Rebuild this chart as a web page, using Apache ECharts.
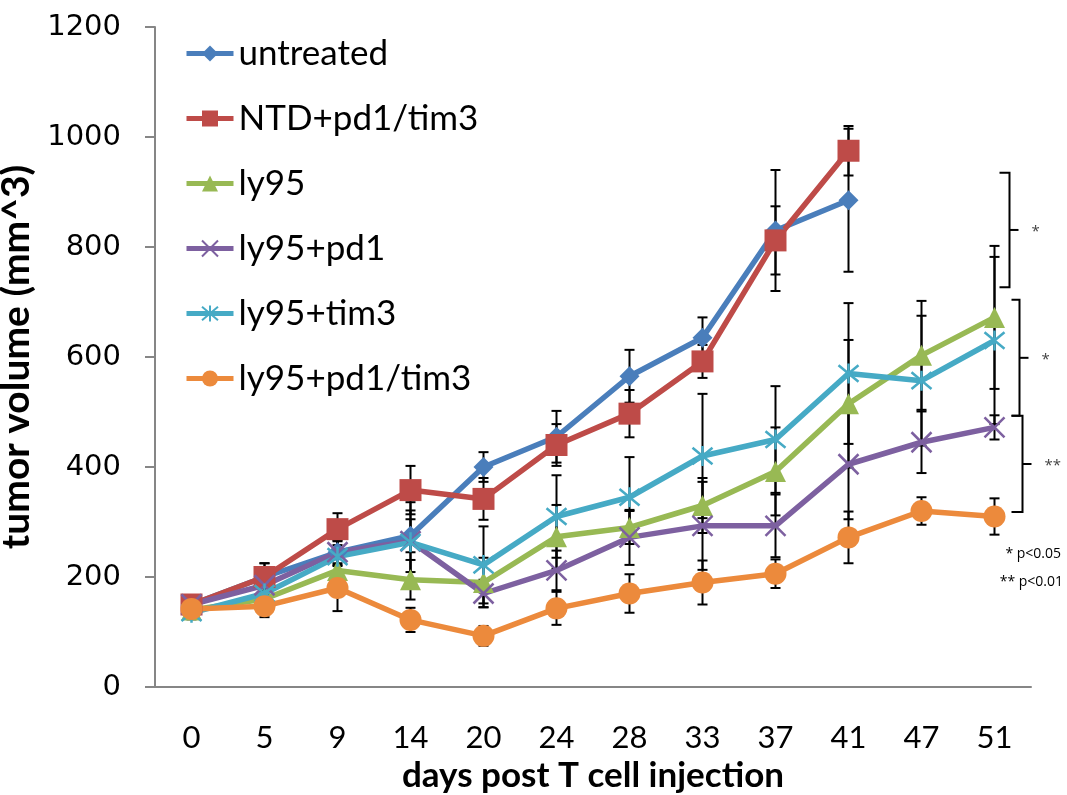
<!DOCTYPE html>
<html>
<head>
<meta charset="utf-8">
<script src="https://cdn.jsdelivr.net/npm/echarts@6/dist/echarts.min.js"></script>
<style>
  html, body { margin: 0; padding: 0; background: #fff; }
  #chart { width: 1067px; height: 795px; }
</style>
</head>
<body>
<div id="chart"></div>
<script>
const days = ['0', '5', '9', '14', '20', '24', '28', '33', '37', '41', '47', '51']

const untreated = [150, 200, 245, 275, 400, 455, 565, 635, 830, 885]
const untreatedErr = [15, 25, 20, 30, 27, 47, 48, 37, 110, 130]
const ntd = [150, 200, 287, 358, 342, 440, 497, 592, 812, 975]
const ntdErr = [15, 25, 29, 44, 38, 38, 43, 30, 62, 45]
const ly95 = [140, 160, 212, 195, 190, 273, 290, 330, 392, 515, 603, 672]
const ly95Err = [12, 20, 40, 36, 45, 58, 30, 50, 80, 116, 99, 130]
const ly95pd1 = [150, 185, 245, 265, 170, 212, 272, 293, 293, 405, 445, 472]
const ly95pd1Err = [12, 20, 25, 56, 25, 36, 50, 80, 57, 100, 56, 22]
const ly95tim3 = [135, 170, 237, 263, 222, 310, 345, 420, 450, 570, 557, 630]
const ly95tim3Err = [12, 20, 30, 73, 70, 75, 73, 113, 97, 128, 118, 152]
const ly95combo = [142, 147, 180, 122, 93, 143, 170, 190, 206, 272, 320, 310]
const ly95comboErr = [12, 20, 42, 22, 18, 30, 35, 40, 26, 47, 25, 33]

// significance brackets (value ranges) and their marks
const bracketLow = [727, 493, 318]
const bracketHigh = [935, 704, 493]
const bracketMarks = ['*', '*', '**']

const groups = [
  { name: 'untreated', data: untreated, err: untreatedErr, color: '#4A7EBB', symbol: 'diamond', size: 20 },
  { name: 'NTD+pd1/tim3', data: ntd, err: ntdErr, color: '#BE4B48', symbol: 'rect', size: 22 },
  { name: 'ly95', data: ly95, err: ly95Err, color: '#98B954', symbol: 'triangle', size: 21 },
  { name: 'ly95+pd1', data: ly95pd1, err: ly95pd1Err, color: '#7D60A0', symbol: 'path://M0 0L10 10M10 0L0 10', size: 20 },
  { name: 'ly95+tim3', data: ly95tim3, err: ly95tim3Err, color: '#46AAC5', symbol: 'path://M0 0L10 10M10 0L0 10M5 -1L5 11', size: 20 },
  { name: 'ly95+pd1/tim3', data: ly95combo, err: ly95comboErr, color: '#EC8A3C', symbol: 'circle', size: 22 }
]

const chart = echarts.init(document.getElementById('chart'))

const errorBars = groups.map(g => ({
  type: 'custom',
  name: g.name + ' err',
  z: 1,
  silent: true,
  data: g.data.map((v, i) => [i, v, g.err[i]]),
  renderItem: (params, api) => {
    const i = api.value(0)
    const v = api.value(1)
    const e = api.value(2)
    const top = api.coord([i, v + e])
    const bot = api.coord([i, v - e])
    const style = { stroke: '#000', lineWidth: 2 }
    return {
      type: 'group',
      children: [
        { type: 'line', shape: { x1: top[0], y1: top[1], x2: bot[0], y2: bot[1] }, style },
        { type: 'line', shape: { x1: top[0] - 5, y1: top[1], x2: top[0] + 5, y2: top[1] }, style },
        { type: 'line', shape: { x1: bot[0] - 5, y1: bot[1], x2: bot[0] + 5, y2: bot[1] }, style }
      ]
    }
  }
}))

const lines = groups.map(g => ({
  type: 'line',
  name: g.name,
  z: 3,
  data: g.data,
  symbol: g.symbol,
  symbolSize: g.size,
  showAllSymbol: true,
  lineStyle: { color: g.color, width: 5.5 },
  itemStyle: {
    color: g.color,
    borderColor: g.color,
    borderWidth: g.symbol.startsWith('path') ? 2.5 : 0
  }
}))

const bracketOffsets = [[5, 15], [17, 25], [17, 28]]
const brackets = {
  type: 'custom',
  name: 'brackets',
  z: 4,
  silent: true,
  clip: false,
  data: bracketLow.map((lo, i) => [days.length - 1, lo, bracketHigh[i], i]),
  renderItem: (params, api) => {
    const idx = api.value(3)
    const lo = api.coord([api.value(0), api.value(1)])
    const hi = api.coord([api.value(0), api.value(2)])
    const a = lo[0] + bracketOffsets[idx][0]
    const b = lo[0] + bracketOffsets[idx][1]
    const mid = (lo[1] + hi[1]) / 2
    const style = { stroke: '#000', lineWidth: 2, fill: null }
    return {
      type: 'group',
      children: [
        { type: 'polyline', shape: { points: [[a, hi[1]], [b, hi[1]], [b, lo[1]], [a, lo[1]]] }, style },
        { type: 'line', shape: { x1: b, y1: mid, x2: b + 9, y2: mid }, style },
        {
          type: 'text',
          style: {
            x: b + 22, y: mid + 2, text: bracketMarks[idx],
            fill: '#444', font: '15px "Open Sans"', align: 'left', verticalAlign: 'middle'
          }
        }
      ]
    }
  }
}

const option = {
  animation: false,
  backgroundColor: '#fff',
  grid: { left: 155, right: 36, top: 27, bottom: 108, containLabel: false, outerBoundsMode: 'none' },
  legend: {
    data: groups.map(g => g.name),
    orient: 'vertical',
    left: 179,
    top: 31,
    itemWidth: 47,
    itemHeight: 20,
    itemGap: 30,
    lineStyle: { width: 5 },
    textStyle: { fontFamily: 'Lato', fontSize: 35, lineHeight: 35, color: '#000' }
  },
  xAxis: {
    type: 'category',
    data: days,
    name: 'days post T cell injection',
    nameLocation: 'middle',
    nameGap: 56,
    nameTextStyle: { fontFamily: 'Lato', fontWeight: 'bold', fontSize: 35, color: '#000' },
    axisLine: { lineStyle: { color: '#868686', width: 2 } },
    axisTick: { length: 10, lineStyle: { color: '#868686', width: 2 } },
    axisLabel: { fontFamily: 'Lato', fontSize: 31, color: '#000', margin: 35 }
  },
  yAxis: {
    type: 'value',
    min: 0,
    max: 1200,
    interval: 200,
    name: 'tumor volume (mm^3)',
    nameLocation: 'middle',
    nameGap: 104,
    nameTextStyle: { fontFamily: 'Lato', fontWeight: 'bold', fontSize: 39, color: '#000' },
    axisLine: { show: true, lineStyle: { color: '#868686', width: 2 } },
    axisTick: { show: true, length: 10, lineStyle: { color: '#868686', width: 2 } },
    splitLine: { show: false },
    axisLabel: { fontFamily: 'DejaVu Sans', fontSize: 29, color: '#000', margin: 34, formatter: v => String(v) }
  },
  graphic: [
    { type: 'text', right: 6, top: 547, style: { text: '* p<0.05', font: '14px "Open Sans"', fill: '#000' } },
    { type: 'text', right: 4, top: 575, style: { text: '** p<0.01', font: '14px "Open Sans"', fill: '#000' } }
  ],
  series: [...errorBars, ...lines, brackets]
}

chart.setOption(option)
</script>
</body>
</html>
